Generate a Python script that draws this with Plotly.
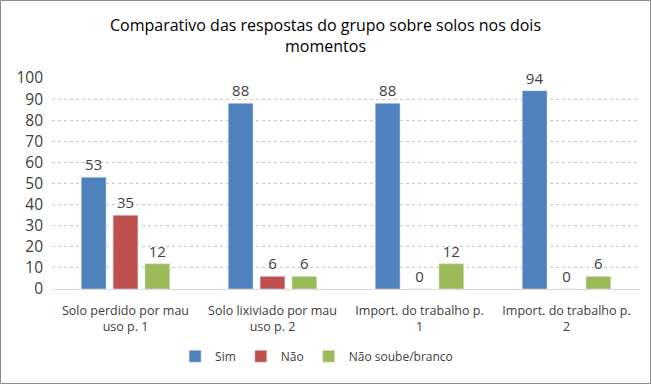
import plotly.graph_objects as go

categories = ["Solo perdido por mau<br>uso p. 1", "Solo lixiviado por mau<br>uso p. 2",
              "Import. do trabalho p.<br>1", "Import. do trabalho p.<br>2"]
sim = [53, 88, 88, 94]
nao = [35, 6, 0, 0]
nao_soube = [12, 6, 12, 6]
series_names = ["Sim", "Não", "Não soube/branco"]
colors = ["#4F81BD", "#C0504D", "#9BBB59"]

W, H = 651, 384
L, R, T, B = 52, 11, 78, 95
pw, ph = W - L - R, H - T - B

fig = go.Figure()
for name, vals, c in zip(series_names, [sim, nao, nao_soube], colors):
    fig.add_trace(go.Bar(x=categories, y=vals, name=name, marker_color=c,
                         text=[str(v) for v in vals], textposition="outside",
                         textfont=dict(size=15, color="#404040", family="Open Sans"),
                         cliponaxis=False))

fig.update_layout(
    width=W, height=H,
    margin=dict(l=L, r=R, t=T, b=B),
    paper_bgcolor="white", plot_bgcolor="white",
    font=dict(family="Open Sans", color="#404040"),
    title=dict(text="Comparativo das respostas do grupo sobre solos nos dois<br>momentos",
               x=0.5, xanchor="center", y=0.92, yanchor="top",
               font=dict(size=16, color="#000000")),
    barmode="group", bargap=0.35, bargroupgap=0.22,
    legend=dict(orientation="h", x=0.45, xanchor="center", y=-0.25, yanchor="top",
                font=dict(size=12, color="#404040"), itemwidth=30, traceorder="normal",
                tracegroupgap=0),
    showlegend=True,
)
fig.update_yaxes(range=[0, 100], dtick=10, showgrid=True, gridcolor="#c8c8c8",
                 griddash="dot", gridwidth=1, zeroline=False, showline=False,
                 tickfont=dict(size=15.5, color="#404040"), ticks="", ticklabelstandoff=8,
                 automargin=False)
fig.update_xaxes(showline=True, linecolor="#d9d9d9", linewidth=1, ticks="",
                 tickfont=dict(size=12.5, color="#404040"), automargin=False,
                 ticklabelstandoff=10)

fig.add_shape(type="rect", xref="paper", yref="paper",
              x0=(0.5 - L) / pw, x1=(W - 0.5 - L) / pw,
              y0=(H - B - (H - 0.5)) / ph, y1=(H - B - 0.5) / ph,
              line=dict(color="#8c8c8c", width=1), fillcolor="rgba(0,0,0,0)")

fig.write_html("out.html", config={"displayModeBar": False},
               post_script="document.body.style.margin='0px';")
